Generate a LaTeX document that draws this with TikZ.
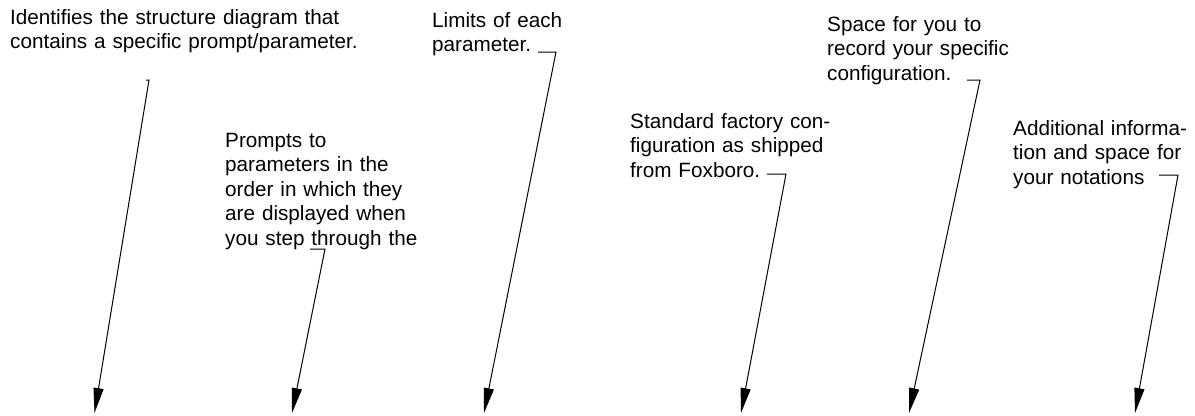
\documentclass[tikz,border=0pt]{standalone}
\usepackage{fontspec}
\setmainfont{Liberation Sans}
\usetikzlibrary{arrows.meta}
\begin{document}
\begin{tikzpicture}[x=1bp,y=-1bp,
  note/.style={anchor=base west,inner sep=0pt,text width=420bp,align=left,
    font=\fontsize{20.7bp}{24.5bp}\selectfont},
  leader/.style={line width=1bp,-{Triangle[length=25bp,width=10bp]}}]
\useasboundingbox (0,0) rectangle (1195,415);
\node[note] (t1) at (10,24) {Identifies the structure diagram that\\contains a specific prompt/parameter.};
\node[note] (t2) at (225,147) {Prompts to\\parameters in the\\order in which they\\are displayed when\\you step through the};
\node[note] (t3) at (432,27) {Limits of each\\parameter.};
\node[note] (t4) at (630,128) {Standard factory con-\\figuration as shipped\\from Foxboro.};
\node[note] (t5) at (827,31) {Space for you to\\record your specific\\configuration.};
\node[note] (t6) at (1013,135) {Additional informa-\\tion and space for\\your notations};
\coordinate (s1) at (146,80);   \coordinate (k1) at (149,80);   \coordinate (p1) at (94.5,413);
\coordinate (s2) at (310,249);  \coordinate (k2) at (325,249);  \coordinate (p2) at (292,413);
\coordinate (s3) at (538,52);   \coordinate (k3) at (556,52);   \coordinate (p3) at (484,413);
\coordinate (s4) at (767,174);  \coordinate (k4) at (786,174);  \coordinate (p4) at (741,413);
\coordinate (s5) at (967,80);   \coordinate (k5) at (980,80);   \coordinate (p5) at (909,413);
\coordinate (s6) at (1159,175); \coordinate (k6) at (1178,175); \coordinate (p6) at (1135,413);
\foreach \i in {1,...,6} {\draw[leader] (s\i) -- (k\i) -- (p\i);}
\end{tikzpicture}
\end{document}
